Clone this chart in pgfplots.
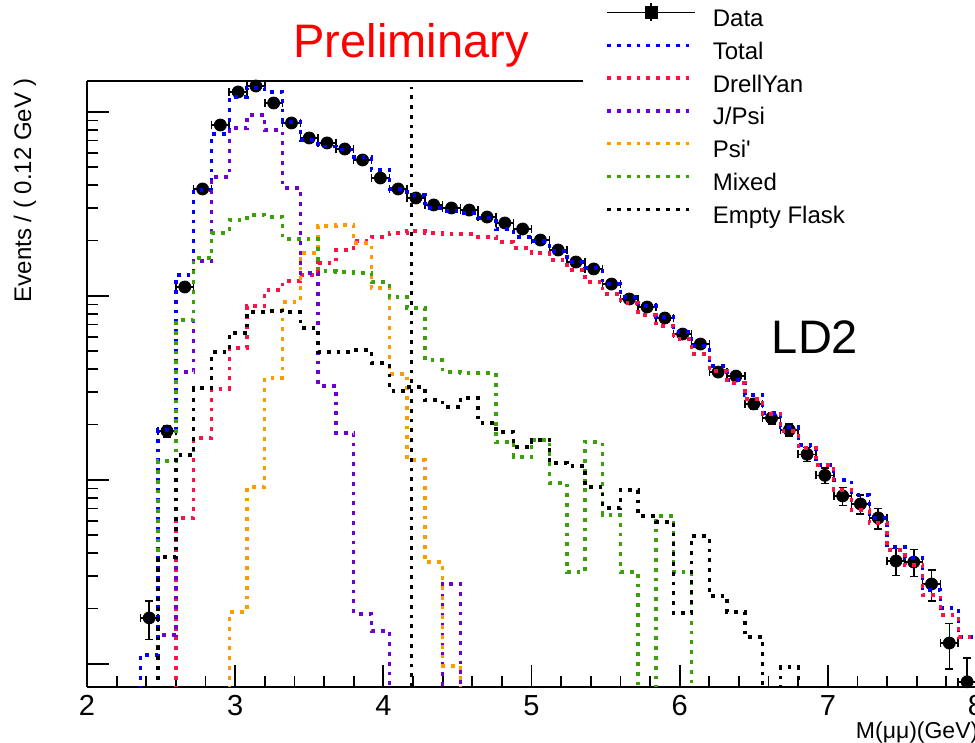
\documentclass[border=0pt]{standalone}
\usepackage{pgfplots}
\pgfplotsset{compat=1.18}
\usepackage{pgfplotstable}
\usepackage{fontspec}
\setmainfont{Liberation Sans}

\definecolor{dyred}{RGB}{250,20,70}
\definecolor{jpsi}{RGB}{110,0,210}
\definecolor{psip}{RGB}{255,155,0}
\definecolor{mixgreen}{RGB}{60,160,10}

% data points: bin centre, events, half bin width, stat. error
\pgfplotstableread{
x     y      ex    ey
2.42  17.8   0.06  4.2
2.54  184.6  0.06  13.6
2.66  1119   0.06  33.5
2.78  3816   0.06  61.8
2.90  8497   0.06  92
3.02  12846  0.06  113
3.14  13840  0.06  118
3.26  11190  0.06  106
3.38  8716   0.06  93
3.50  7224   0.06  85
3.62  6789   0.06  82
3.74  6292   0.06  79
3.86  5484   0.06  74
3.98  4378   0.06  66
4.10  3816   0.06  62
4.22  3410   0.06  58
4.34  3125   0.06  56
4.46  3008   0.06  55
4.58  2931   0.06  54
4.70  2686   0.06  52
4.82  2493   0.06  50
4.94  2312   0.06  48
5.06  2014   0.06  45
5.18  1778   0.06  42
5.30  1530   0.06  39
5.42  1403   0.06  37
5.54  1161   0.06  34
5.66  963    0.06  31
5.78  871    0.06  30
5.90  759    0.06  28
6.02  621    0.06  25
6.14  548    0.06  23
6.26  386    0.06  20
6.38  367    0.06  19
6.50  259    0.06  16
6.62  217    0.06  15
6.74  187    0.06  14
6.86  138    0.06  12
6.98  106    0.06  10
7.10  81.9   0.06  9
7.22  74.1   0.06  8.6
7.34  62.2   0.06  7.9
7.46  36.3   0.06  6
7.58  35.8   0.06  6
7.70  27.2   0.06  5.2
7.82  13.0   0.06  3.6
7.94  8.0    0.06  2.8
}\datatable

% fit components: lower bin edge, content (last row closes the last bin)
\pgfplotstableread{
x     y
2.24  1
2.36  11.19
2.48  187
2.60  1301
2.72  3768
2.84  7595
2.96  12070
3.08  13510
3.20  12850
3.32  8828
3.44  7046
3.56  6500
3.68  6250
3.80  5693
3.92  4839
4.04  3815
4.16  3540
4.28  3008
4.40  2897
4.52  2825
4.64  2654
4.76  2313
4.88  2093
5.00  1991
5.12  1757
5.24  1530
5.36  1420
5.48  1162
5.60  987.7
5.72  882.5
5.84  768.9
5.96  637.4
6.08  534.9
6.20  416.5
6.32  349.5
6.44  289.7
6.56  231.3
6.68  194.1
6.80  155.0
6.92  120.6
7.04  100
7.16  82.9
7.28  62.2
7.40  43.2
7.52  37.7
7.64  25.3
7.76  20.2
7.88  14.0
8.00  14.0
}\totaltable

\pgfplotstableread{
x     y
2.48  1
2.60  62.2
2.72  169.2
2.84  312.3
2.96  521.7
3.08  882.5
3.20  1078
3.32  1206
3.44  1301
3.56  1512
3.68  1778
3.80  1991
3.92  2093
4.04  2200
4.16  2256
4.28  2200
4.40  2173
4.52  2173
4.64  2093
4.76  1966
4.88  1824
5.00  1713
5.12  1569
5.24  1384
5.36  1192
5.48  1025
5.60  916.2
5.72  788.3
5.84  687.1
5.96  583.8
6.08  483.9
6.20  391.2
6.32  336.7
6.44  275.5
6.56  228.4
6.68  184.6
6.80  149.3
6.92  120.6
7.04  88.3
7.16  68.7
7.28  58.4
7.40  41.7
7.52  34.5
7.64  23.7
7.76  18.5
7.88  14.0
8.00  14.0
}\dytable

\pgfplotstableread{
x     y
2.36  1
2.48  14.4
2.60  386.4
2.72  1550
2.84  4433
2.96  8185
3.08  9632
3.20  7983
3.32  3864
3.44  1334
3.56  324.3
3.68  180.1
3.80  18.7
3.92  15.1
4.04  1
4.40  27.2
4.52  1
4.64  1
}\jpsitable

\pgfplotstableread{
x     y
2.84  1
2.96  19.2
3.08  91.6
3.20  358.4
3.32  927.8
3.44  1713
3.56  2401
3.68  2431
3.80  1941
3.92  1105
4.04  376.8
4.16  128.4
4.28  35.8
4.40  9.75
4.52  1
4.64  1
}\psiptable

\pgfplotstableread{
x     y
2.36  1
2.48  126.9
2.60  740.6
2.72  1609
2.84  2198
2.96  2588
3.08  2755
3.20  2687
3.32  2041
3.44  2041
3.56  1367
3.68  1350
3.80  1334
3.92  1192
4.04  987.7
4.16  860.6
4.28  448.9
4.40  386.4
4.52  381.5
4.64  381.5
4.76  160.9
4.88  133.4
5.00  165.0
5.12  96.3
5.24  31.6
5.36  160.9
5.48  64.5
5.60  31.6
5.72  1
5.84  63.7
5.96  31.6
6.08  1
6.20  1
}\mixedtable

\pgfplotstableread{
x     y
2.36  1
2.48  38.2
2.60  136.7
2.72  316.2
2.84  496.1
2.96  629.4
3.08  818.5
3.20  828.8
3.32  818.5
3.44  670.1
3.56  496.1
3.68  496.1
3.80  508.7
3.92  432.4
4.04  304.5
4.16  320.1
4.28  272.1
4.40  249.3
4.52  279.0
4.64  204.1
4.76  182.4
4.88  151.1
5.00  165.0
5.12  123.7
5.24  119.2
5.36  91.6
5.48  70.5
5.60  88.3
5.72  63.7
5.84  59.1
5.96  18.9
6.08  49.6
6.20  23.4
6.32  19.2
6.44  14.0
6.56  1
6.68  9.63
6.80  1
6.92  1
}\flasktable

\pgfplotsset{
  rootdot/.style={line width=1.7pt, dash pattern=on 1.9pt off 3pt, const plot},
}

\begin{document}
\begin{tikzpicture}
\begin{axis}[
  name=ax,
  scale only axis,
  width=444.5pt, height=303pt,
  xmin=2, xmax=8,
  ymode=log, ymin=7.5, ymax=14740,
  clip mode=individual,
  axis x line*=bottom, axis y line*=left,
  axis line style={-, line width=0.9pt},
  xtick={2,3,4,5,6,7,8},
  minor x tick num=4,
  ytick={10,100,1000,10000},
  yticklabels={},
  xtick pos=bottom, ytick pos=left,
  tick align=inside,
  major tick length=11pt,
  minor tick length=5.5pt,
  tick style={line width=0.9pt, black},
  /pgf/number format/assume math mode=true,
  xticklabel style={font=\fontsize{14.5}{16}\selectfont, yshift=-0.5pt},
  xlabel={M(μμ)(GeV)},
  xlabel style={at={(axis description cs:0.857,-0.0756)}, anchor=west,
    font=\fontsize{11.5}{13}\selectfont},
  ylabel={Events / ( 0.12 GeV )},
  ylabel style={at={(axis description cs:-0.0697,0.82)}, anchor=center,
    font=\fontsize{12}{14}\selectfont},
  legend style={at={(0.558,1.1453)}, anchor=north west, draw=none, fill=white,
    inner xsep=11pt, inner ysep=4.7pt, font=\fontsize{12}{14}\selectfont,
    nodes={inner sep=0pt, text height=8.6pt, text depth=2.5pt},
    row sep=5.3pt, column sep=8pt},
  legend cell align=left,
  legend image code/.code={\draw[#1] (0pt,4pt) -- (44pt,4pt);},
]

\addplot[only marks, mark=*, mark size=3pt, black,
  legend image code/.code={
    \draw[black, line width=0.75pt] (0pt,4pt) -- (44pt,4pt);
    \draw[black, line width=0.75pt] (22pt,-0.5pt) -- (22pt,8.5pt);
    \fill[black] (19pt,1pt) rectangle (25pt,7pt);},
  error bars/.cd, x dir=both, x explicit, y dir=both, y explicit,
  error bar style={line width=0.75pt},
  error mark options={rotate=90, mark size=2pt, line width=0.75pt},
  ] table[x=x, y=y, x error=ex, y error=ey] {\datatable};
\addlegendentry{Data}
\addplot[rootdot, blue] table[x=x, y=y] {\totaltable};
\addlegendentry{Total}
\addplot[rootdot, dyred] table[x=x, y=y] {\dytable};
\addlegendentry{DrellYan}
\addplot[rootdot, jpsi] table[x=x, y=y] {\jpsitable};
\addlegendentry{J/Psi}
\addplot[rootdot, psip] table[x=x, y=y] {\psiptable};
\addlegendentry{Psi\textquotesingle}
\addplot[rootdot, mixgreen] table[x=x, y=y] {\mixedtable};
\addlegendentry{Mixed}
\addplot[rootdot, black] table[x=x, y=y] {\flasktable};
\addlegendentry{Empty Flask}
% cut line
\addplot[line width=1.7pt, dash pattern=on 1.9pt off 3pt, black, forget plot]
  coordinates {(4.19,7.5) (4.19,13680)};

% top frame, visible up to the legend box
\draw[line width=0.9pt] (rel axis cs:0,1) -- (rel axis cs:0.558,1);

\node[text=red, font=\fontsize{23.5}{26}\selectfont]
  at (axis description cs:0.3645,1.0594) {Preliminary};
\node[font=\fontsize{23.5}{26}\selectfont]
  at (axis description cs:0.8189,0.5776) {LD2};
\end{axis}
\pgfresetboundingbox
\path[use as bounding box] ([shift={(-43.5pt,-28pt)}]ax.south west)
  rectangle ([shift={(444pt,343.5pt)}]ax.south west);
\end{tikzpicture}
\end{document}
